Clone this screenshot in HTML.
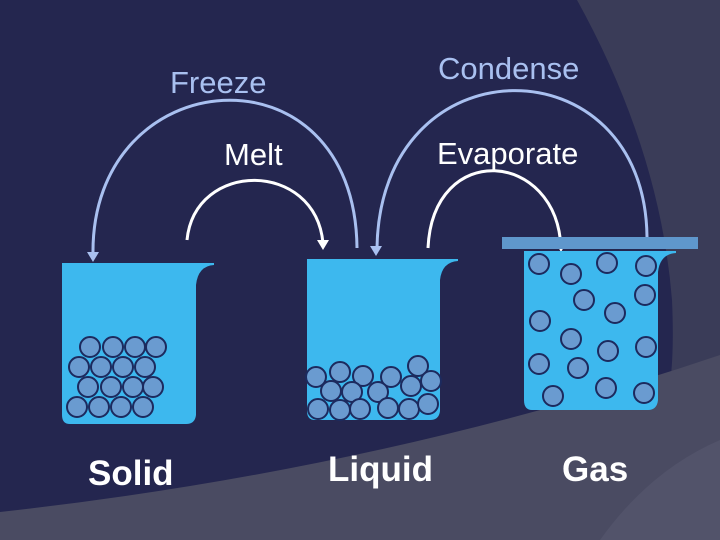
<!DOCTYPE html>
<html><head><style>html,body{margin:0;padding:0;background:#24264f}svg{display:block}</style></head><body>
<svg width="720" height="540" viewBox="0 0 720 540" xmlns="http://www.w3.org/2000/svg" font-family="Liberation Sans, sans-serif">
<rect width="720" height="540" fill="#24264f"/>
<path d="M577,0 Q660,150 672,300 Q676,390 660,420 L720,400 L720,0 Z" fill="#3a3c58"/>
<path d="M0,512 Q380,470 720,355 L720,540 L0,540 Z" fill="#4a4b62"/>
<path d="M600,540 Q650,470 720,440 L720,540 Z" fill="#52536a"/>
<g fill="none" stroke-width="3">
<path d="M93,255 C90,60 355,40 357,248" stroke="#a9c0f0"/>
<path d="M377,248 C380,40 645,40 647,237" stroke="#a9c0f0"/>
<path d="M187,240 C195,160 315,160 323,243" stroke="#fff"/>
<path d="M428,248 C433,140 557,150 561,248" stroke="#fff"/>
</g>
<g>
<polygon points="87,252 99,252 93,262" fill="#a9c0f0"/>
<polygon points="370,246 382,246 376,256" fill="#a9c0f0"/>
<polygon points="317,240 329,240 323,250" fill="#fff"/>
<polygon points="555,242 567,242 561,252" fill="#fff"/>
</g>
<g fill="#3db8ee">
<path d="M62,263 L214,263 L214,265 Q198,266 196,285 L196,415 Q195,424 186,424 L70,424 Q62,424 62,415 Z"/>
<path d="M307,259 L458,259 L458,261 Q442,262 440,280 L440,411 Q439,420 430,420 L315,420 Q307,420 307,411 Z"/>
<path d="M524,251 L676,251 L676,253 Q660,254 658,272 L658,400 Q657,410 648,410 L532,410 Q524,410 524,400 Z"/>
</g>
<rect x="502" y="237" width="196" height="12" fill="#5f97cc"/>
<g fill="#6a9bd0" stroke="#1c2a5e" stroke-width="2">
<circle cx="90" cy="347" r="10"/><circle cx="113" cy="347" r="10"/><circle cx="135" cy="347" r="10"/><circle cx="156" cy="347" r="10"/>
<circle cx="79" cy="367" r="10"/><circle cx="101" cy="367" r="10"/><circle cx="123" cy="367" r="10"/><circle cx="145" cy="367" r="10"/>
<circle cx="88" cy="387" r="10"/><circle cx="111" cy="387" r="10"/><circle cx="133" cy="387" r="10"/><circle cx="153" cy="387" r="10"/>
<circle cx="77" cy="407" r="10"/><circle cx="99" cy="407" r="10"/><circle cx="121" cy="407" r="10"/><circle cx="143" cy="407" r="10"/>
<circle cx="316" cy="377" r="10"/><circle cx="340" cy="372" r="10"/><circle cx="363" cy="376" r="10"/><circle cx="391" cy="377" r="10"/><circle cx="418" cy="366" r="10"/>
<circle cx="331" cy="391" r="10"/><circle cx="352" cy="392" r="10"/><circle cx="378" cy="392" r="10"/><circle cx="411" cy="386" r="10"/><circle cx="431" cy="381" r="10"/>
<circle cx="318" cy="409" r="10"/><circle cx="340" cy="410" r="10"/><circle cx="360" cy="409" r="10"/><circle cx="388" cy="408" r="10"/><circle cx="409" cy="409" r="10"/><circle cx="428" cy="404" r="10"/>
<circle cx="539" cy="264" r="10"/><circle cx="571" cy="274" r="10"/><circle cx="607" cy="263" r="10"/><circle cx="646" cy="266" r="10"/>
<circle cx="584" cy="300" r="10"/><circle cx="645" cy="295" r="10"/><circle cx="615" cy="313" r="10"/><circle cx="540" cy="321" r="10"/>
<circle cx="571" cy="339" r="10"/><circle cx="608" cy="351" r="10"/><circle cx="646" cy="347" r="10"/><circle cx="539" cy="364" r="10"/>
<circle cx="578" cy="368" r="10"/><circle cx="553" cy="396" r="10"/><circle cx="606" cy="388" r="10"/><circle cx="644" cy="393" r="10"/>
</g>
<g font-size="31">
<text x="170" y="93" fill="#a9c0f0">Freeze</text>
<text x="438" y="79" fill="#a9c0f0">Condense</text>
<text x="224" y="165" fill="#fff">Melt</text>
<text x="437" y="164" fill="#fff">Evaporate</text>
</g>
<g font-size="35" font-weight="bold" fill="#fff">
<text x="88" y="485">Solid</text>
<text x="328" y="481">Liquid</text>
<text x="562" y="481">Gas</text>
</g>
</svg>
</body></html>
